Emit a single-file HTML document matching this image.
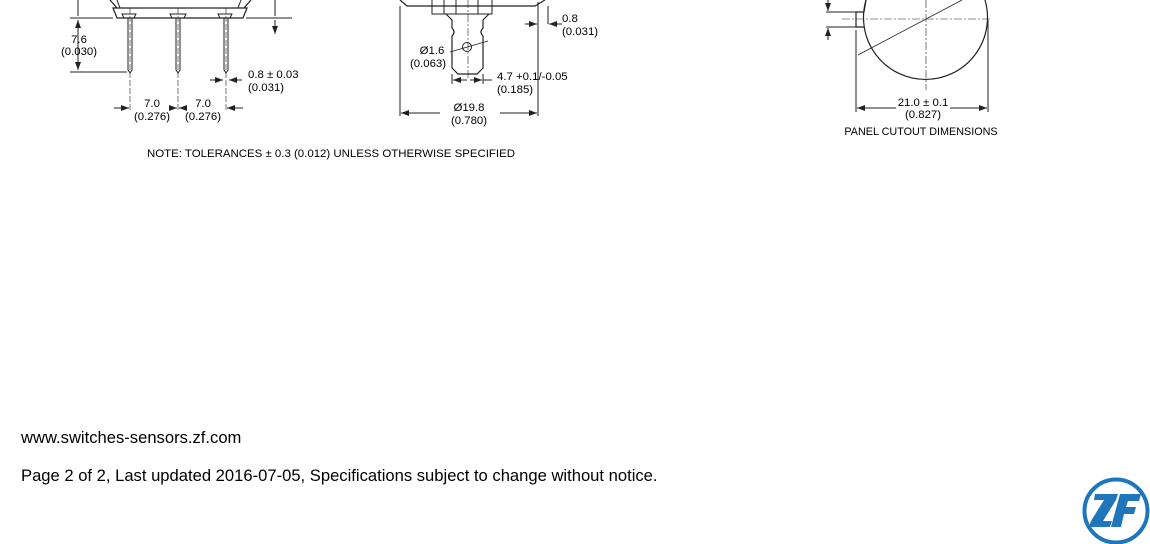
<!DOCTYPE html>
<html><head><style>
body{margin:0;width:1150px;height:544px;background:#fff;overflow:hidden;position:relative;font-family:"Liberation Sans",sans-serif}
svg{position:absolute;left:0;top:0}
.t{position:absolute;color:#000;font-size:16.6px;left:21px}
</style></head><body>
<svg width="1150" height="544" viewBox="0 0 1150 544" font-family="Liberation Sans, sans-serif" font-size="11.4" fill="none" stroke="#222" stroke-width="1">
<defs><marker id="a" markerWidth="8" markerHeight="6" refX="8" refY="3" orient="auto-start-reverse"><path d="M0,0 L8,3 L0,6z" fill="#222" stroke="none"/></marker></defs>
<!-- left drawing -->
<path d="M110,0 L117,8 M251,0 L244,8 M113,8 L247,8 L243,18 L117,18 Z" stroke-width="1.2"/>
<path d="M117,0 L120,8 M241,0 L238,8"/>
<g stroke-width="1">
<path d="M122,14 L136,14 L134,18 L124,18Z M170,14 L186,14 L184,18 L172,18Z M218,14 L232,14 L230,18 L220,18Z"/>
<path d="M128,18 L128,70 L130,73 L132,70 L132,18 M176,18 L176,70 L178,73 L180,70 L180,18 M224,18 L224,70 L226,73 L228,70 L228,18"/>
</g>
<path d="M130,8 V110 M178,8 V110 M226,8 V110" stroke-width=".6" stroke-dasharray="6,2"/>
<path d="M70,18 H113 M70,72 H127 M246,18 H292 M78,0 V16" />
<path d="M78,20 V70" marker-start="url(#a)" marker-end="url(#a)"/>
<path d="M275,0 V16 M275,20 V34" marker-end="url(#a)"/>
<path d="M114,108 H129" marker-end="url(#a)"/><path d="M243,108 H227" marker-end="url(#a)"/>
<path d="M170,108 H177" marker-end="url(#a)"/><path d="M186,108 H179" marker-end="url(#a)"/>
<path d="M210,80 H223" marker-end="url(#a)"/><path d="M242,80 H229" marker-end="url(#a)"/>
<g fill="#000" stroke="none" text-anchor="middle">
<text x="79" y="43">7.6</text><text x="79" y="55">(0.030)</text>
<text x="152" y="107">7.0</text><text x="152" y="120">(0.276)</text>
<text x="203" y="107">7.0</text><text x="203" y="120">(0.276)</text>
<text x="248" y="78" text-anchor="start">0.8 ± 0.03</text><text x="248" y="91" text-anchor="start">(0.031)</text>
<text x="147" y="157" text-anchor="start" textLength="368" lengthAdjust="spacingAndGlyphs">NOTE: TOLERANCES ± 0.3 (0.012) UNLESS OTHERWISE SPECIFIED</text>
</g>
<!-- middle drawing -->
<path d="M400,0 L407,6 L535,6 L545,0" stroke-width="1.2"/>
<path d="M432,0 V14 L492,14 V0 M444,0 V14 M456,0 V14 M478,0 V14" />
<path d="M446,14 L452,20 L452,28 Q456,32 452,36 L452,68 L458,74 L477,74 L483,68 L483,36 Q479,32 483,28 L483,20 L489,14" stroke-width="1.2"/>
<circle cx="467" cy="47" r="4.5"/>
<path d="M468,0 V80" stroke-width=".6" stroke-dasharray="8,2,2,2"/>
<path d="M450,52 L488,41" stroke-width=".8"/>
<path d="M400,6 V116 M538,6 V116 M452,74 V84 M483,74 V84 M538,24 V2 M548,24 V6"/>
<path d="M440,113 H401" marker-end="url(#a)"/><path d="M500,113 H537" marker-end="url(#a)"/>
<path d="M467,80 H453" marker-end="url(#a)"/><path d="M470,80 H482" marker-end="url(#a)"/><path d="M483,80 H492"/>
<path d="M525,24 H537" marker-end="url(#a)"/><path d="M562,24 H549" marker-end="url(#a)"/>
<g fill="#000" stroke="none" text-anchor="middle">
<text x="432" y="54">Ø1.6</text><text x="428" y="67">(0.063)</text>
<text x="497" y="80" text-anchor="start">4.7 +0.1/-0.05</text><text x="497" y="93" text-anchor="start">(0.185)</text>
<text x="469" y="111">Ø19.8</text><text x="469" y="124">(0.780)</text>
<text x="562" y="22" text-anchor="start">0.8</text><text x="562" y="35" text-anchor="start">(0.031)</text>
</g>
<!-- panel cutout -->
<path d="M866,0 A62,62 0 1 0 985,0" stroke-width="1.2"/>
<path d="M866,0 L864,12 H856 V27 H864" stroke-width="1.2"/>
<path d="M842,19 H992 M926,0 V90" stroke-width=".6" stroke-dasharray="8,2,2,2"/>
<path d="M858,55 L962,0" stroke-width=".8"/>
<path d="M826,12 H858 M826,27 H858 M856,30 V112 M988,20 V112"/>
<path d="M828,0 V11" marker-end="url(#a)"/><path d="M828,40 V28" marker-end="url(#a)"/>
<path d="M896,108 H857" marker-end="url(#a)"/><path d="M950,108 H987" marker-end="url(#a)"/>
<g fill="#000" stroke="none" text-anchor="middle">
<text x="923" y="106">21.0 ± 0.1</text><text x="923" y="118">(0.827)</text>
<text x="921" y="135" font-size="10.8">PANEL CUTOUT DIMENSIONS</text>
</g>
<!-- logo -->
<circle cx="1116" cy="511" r="31.5" stroke="#1f76bb" stroke-width="4"/>
<path d="M1095,494 H1118 L1116,500 L1103,521 H1112 L1110,527 H1089 L1091,521 L1104,500 H1094Z M1120,494 H1141 L1139,501 H1128 L1126,507 H1136 L1134,514 H1124 L1121,527 H1111Z" fill="#1f76bb" stroke="none"/>
</svg>
<div class="t" style="top:428px">www.switches-sensors.zf.com</div>
<div class="t" style="top:466px">Page 2 of 2, Last updated 2016-07-05, Specifications subject to change without notice.</div>
</body></html>
